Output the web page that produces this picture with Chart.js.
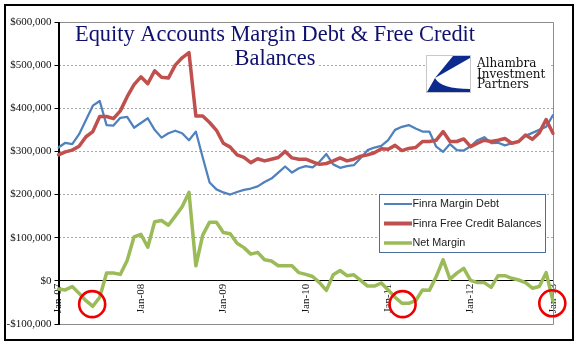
<!DOCTYPE html>
<html>
<head>
<meta charset="utf-8">
<script src="https://cdn.jsdelivr.net/npm/chart.js@4/dist/chart.umd.min.js"></script>
<style>
  html, body { margin: 0; padding: 0; background: #fff; }
  canvas { display: block; }
</style>
</head>
<body>
<canvas id="chart" width="583" height="348"></canvas>
<script>
// Monthly observations, Jan-07 through Jan-13
const monthNames = ['Jan','Feb','Mar','Apr','May','Jun','Jul','Aug','Sep','Oct','Nov','Dec'];
const firstYear = 2007;
const monthCount = 73;

const marginDebt = [
  309000, 320000, 317000, 340000, 373000, 406000, 417000, 361000, 360000, 378000, 380000, 355000,
  366000, 377000, 350000, 332000, 342000, 348000, 342000, 326000, 346000, 286000, 228000, 212000,
  205000, 200000, 206000, 211000, 214000, 219000, 229000, 237000, 251000, 265000, 251000, 261000,
  266000, 263000, 276000, 294000, 270000, 262000, 266000, 268000, 285000, 303000, 309000, 313000,
  326000, 350000, 357000, 361000, 353000, 346000, 346000, 311000, 299000, 317000, 303000, 302000,
  312000, 326000, 333000, 319000, 320000, 314000, 319000, 323000, 336000, 343000, 350000, 357000,
  384000
];

const freeCredit = [
  292000, 299000, 303000, 312000, 334000, 346000, 381000, 381000, 376000, 394000, 427000, 455000,
  473000, 457000, 487000, 472000, 470000, 500000, 517000, 529000, 382000, 382000, 367000, 349000,
  319000, 310000, 292000, 286000, 274000, 283000, 278000, 282000, 286000, 300000, 285000, 282000,
  282000, 276000, 270000, 272000, 278000, 285000, 278000, 282000, 289000, 292000, 297000, 306000,
  305000, 314000, 302000, 307000, 309000, 323000, 323000, 326000, 346000, 323000, 323000, 329000,
  311000, 319000, 326000, 323000, 326000, 330000, 319000, 323000, 338000, 328000, 343000, 374000,
  342000
];

const netMargin = [
  -19000, -21000, -13000, -29000, -46000, -59000, -38000, 18000, 18000, 15000, 47000, 102000,
  108000, 78000, 137000, 140000, 129000, 150000, 172000, 205000, 35000, 106000, 136000, 136000,
  112000, 109000, 87000, 77000, 62000, 66000, 49000, 46000, 35000, 35000, 35000, 19000,
  15000, 10000, -4000, -22000, 14000, 24000, 12000, 14000, 1000, -12000, -12000, -5000,
  -21000, -38000, -52000, -52000, -46000, -21000, -22000, 10000, 49000, 4000, 18000, 29000,
  1000, -4000, -4000, -15000, 12000, 12000, 6000, 2000, -4000, -17000, -13000, 19000,
  -47000
];

const yTickValues = [-100000, 0, 100000, 200000, 300000, 400000, 500000, 600000];

// Highlighted troughs (category index, value)
const circleIndex = [4.9, 50.1, 71.9];
const circleValue = [-54000, -54000, -52000];

const seriesNames = ['Finra Margin Debt', 'Finra Free Credit Balances', 'Net Margin'];
const seriesColors = ['#4F81BD', '#C0504D', '#9BBB59'];
const titleLines = ['Equity Accounts Margin Debt & Free Credit', 'Balances'];
const logoLines = ['Alhambra', 'Investment', 'Partners'];

const categories = [];
for (let i = 0; i < monthCount; i++) {
  const yy = String((firstYear + Math.floor(i / 12)) % 100).padStart(2, '0');
  categories.push(monthNames[i % 12] + '-' + yy);
}

const serif = "'Liberation Serif', 'Times New Roman', serif";
const sans = "'Liberation Sans', Arial, sans-serif";

function money(v) {
  return (v < 0 ? '-' : '') + '$' + Math.abs(v).toLocaleString('en-US');
}

const decorations = {
  id: 'decorations',
  beforeDraw(chart) {
    const ctx = chart.ctx;
    ctx.save();
    ctx.fillStyle = '#ffffff';
    ctx.fillRect(0, 0, chart.width, chart.height);
    ctx.restore();
  },
  beforeDatasetsDraw(chart) {
    // plot frame: grey on top/right/bottom, axis line on the left
    const a = chart.chartArea;
    const ctx = chart.ctx;
    ctx.save();
    ctx.strokeStyle = '#8c8c8c';
    ctx.lineWidth = 1;
    ctx.beginPath();
    ctx.moveTo(Math.round(a.left) + 0.5, Math.round(a.top) + 0.5);
    ctx.lineTo(Math.round(a.right) + 0.5, Math.round(a.top) + 0.5);
    ctx.lineTo(Math.round(a.right) + 0.5, Math.round(a.bottom) + 0.5);
    ctx.lineTo(Math.round(a.left) + 0.5, Math.round(a.bottom) + 0.5);
    ctx.stroke();
    ctx.strokeStyle = '#000';
    ctx.beginPath();
    ctx.moveTo(Math.round(a.left) + 0.5, Math.round(a.top));
    ctx.lineTo(Math.round(a.left) + 0.5, Math.round(a.bottom) + 1);
    ctx.stroke();
    ctx.restore();
  },
  afterDraw(chart) {
    const ctx = chart.ctx;
    const xs = chart.scales.x, ys = chart.scales.y;
    ctx.save();

    // title
    ctx.font = '22.4px ' + serif;
    ctx.textAlign = 'center';
    ctx.textBaseline = 'alphabetic';
    const titleX = 275;
    const titleY = [41, 64.5];
    titleLines.forEach((t, i) => {
      const w = ctx.measureText(t).width;
      ctx.fillStyle = '#fff';
      ctx.fillRect(titleX - w / 2 - 2, titleY[i] - 16, w + 4, 20);
      ctx.fillStyle = '#10106e';
      ctx.fillText(t, titleX, titleY[i]);
    });

    // logo
    ctx.fillStyle = '#fff';
    ctx.fillRect(425, 50, 124, 46);
    ctx.strokeStyle = '#c8c8c8';
    ctx.lineWidth = 1;
    ctx.strokeRect(426.5, 55.5, 44, 37);
    ctx.fillStyle = '#0d2a8f';
    ctx.beginPath();
    ctx.moveTo(453, 56);
    ctx.lineTo(470, 56);
    ctx.lineTo(470, 58);
    ctx.lineTo(435, 78);
    ctx.closePath();
    ctx.fill();
    ctx.beginPath();
    ctx.moveTo(427, 92);
    ctx.lineTo(435, 78);
    ctx.quadraticCurveTo(441, 89, 470, 89);
    ctx.lineTo(470, 92);
    ctx.closePath();
    ctx.fill();
    ctx.fillStyle = '#111';
    ctx.textAlign = 'left';
    ctx.font = "12px 'DejaVu Serif', serif";
    [67.3, 77.5, 87.7].forEach((y, i) => ctx.fillText(logoLines[i], 477, y));

    // legend
    ctx.fillStyle = '#fff';
    ctx.fillRect(379.5, 194.5, 166, 58);
    ctx.strokeStyle = '#4a6d9c';
    ctx.lineWidth = 1;
    ctx.strokeRect(379.5, 194.5, 166, 58);
    const rowY = [204, 223.5, 243];
    const sampleWidth = [2, 4, 3.5];
    ctx.font = '10.8px ' + sans;
    ctx.textBaseline = 'middle';
    seriesNames.forEach((name, i) => {
      ctx.strokeStyle = seriesColors[i];
      ctx.lineWidth = sampleWidth[i];
      ctx.beginPath();
      ctx.moveTo(384, rowY[i]);
      ctx.lineTo(412, rowY[i]);
      ctx.stroke();
      ctx.fillStyle = '#1a1a1a';
      ctx.fillText(name, 412.5, rowY[i] + 0.5);
    });

    // trough markers
    ctx.strokeStyle = '#ee0000';
    ctx.lineWidth = 2.6;
    circleIndex.forEach((ix, i) => {
      ctx.beginPath();
      ctx.arc(xs.getPixelForValue(ix), ys.getPixelForValue(circleValue[i]), 13, 0, Math.PI * 2);
      ctx.stroke();
    });

    // outer frame
    ctx.strokeStyle = '#000';
    ctx.lineWidth = 2;
    ctx.strokeRect(5, 5, 568, 335);
    ctx.restore();
  }
};

const lineWidths = [2.25, 3.5, 3.5];
const seriesData = [marginDebt, freeCredit, netMargin];

new Chart(document.getElementById('chart'), {
  type: 'line',
  data: {
    labels: categories,
    datasets: seriesData.map((d, i) => ({
      label: seriesNames[i],
      data: d,
      borderColor: seriesColors[i],
      backgroundColor: seriesColors[i],
      borderWidth: lineWidths[i],
      pointRadius: 0,
      tension: 0,
      fill: false,
      borderJoinStyle: 'round',
      borderCapStyle: 'round',
      order: 3 - i
    }))
  },
  options: {
    responsive: false,
    animation: false,
    devicePixelRatio: 1,
    layout: { padding: { left: 6.5, top: 22, right: 30, bottom: 24 } },
    plugins: {
      legend: { display: false },
      tooltip: { enabled: false },
      title: { display: false }
    },
    scales: {
      x: {
        type: 'category',
        position: { y: 0 },
        offset: false,
        grid: { display: false, drawTicks: false },
        border: { display: true, color: '#000', width: 1 },
        ticks: {
          autoSkip: false,
          minRotation: 90,
          maxRotation: 90,
          padding: 3,
          color: '#111',
          font: { family: serif, size: 11 },
          callback: function (v) {
            const l = this.getLabelForValue(v);
            return l.startsWith('Jan') ? l : '';
          }
        },
        afterFit(s) { s.height = 0; }
      },
      y: {
        min: yTickValues[0],
        max: yTickValues[yTickValues.length - 1],
        afterBuildTicks(s) { s.ticks = yTickValues.map(v => ({ value: v })); },
        ticks: {
          padding: 3,
          color: '#111',
          font: { family: serif, size: 11 },
          callback: v => money(v)
        },
        grid: {
          color: c => (c.tick && c.tick.value === 0) ? 'rgba(0,0,0,0)' : '#a8a8a8',
          lineWidth: 1,
          tickColor: '#000',
          tickLength: 4,
          tickBorderDash: []
        },
        border: { display: true, color: '#000', width: 1, dash: [2, 2] },
        afterFit(s) { s.width = 52; }
      }
    }
  },
  plugins: [decorations]
});
</script>
</body>
</html>
